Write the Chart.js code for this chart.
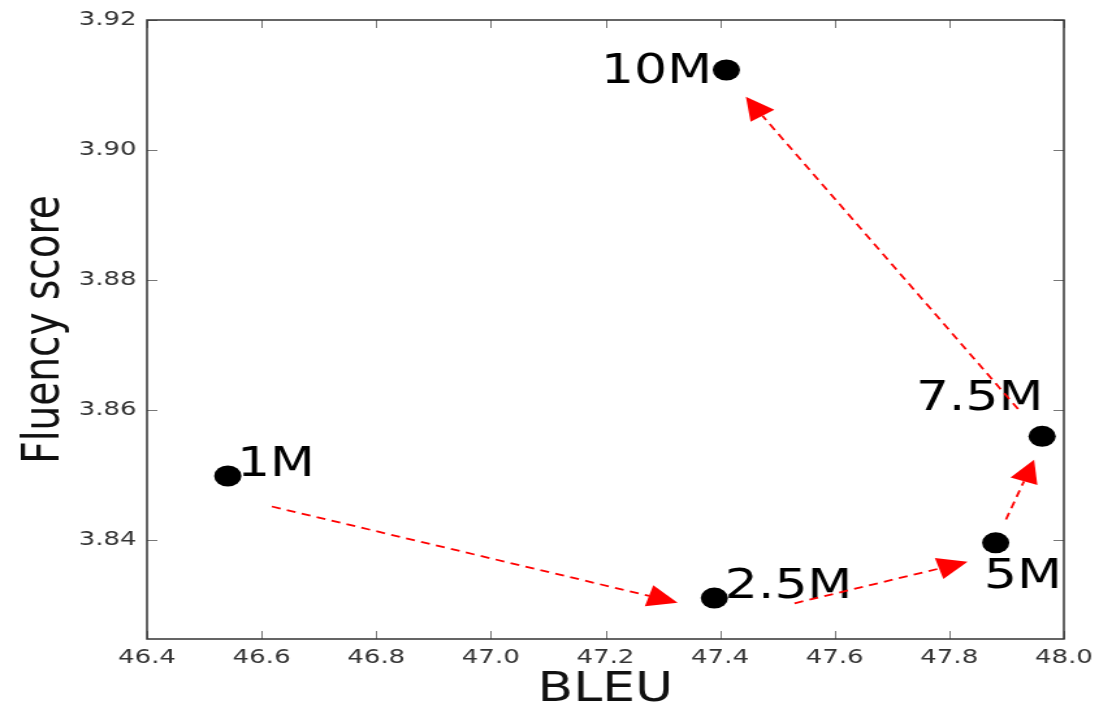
<!DOCTYPE html>
<html>
<head>
<meta charset="utf-8">
<script src="https://cdn.jsdelivr.net/npm/chart.js@4.4.1/dist/chart.umd.min.js"></script>
<style>
  html, body { margin: 0; padding: 0; background: #fff; overflow: hidden; }
  #chart { display: block; }
</style>
</head>
<body>
<!-- drawn at 855 wide and stretched to 1112, like the reference image -->
<canvas id="chart" width="855" height="715" style="width:1112px;height:715px"></canvas>
<script>
const sizes = ['1M', '2.5M', '5M', '7.5M', '10M'];
const bleu = [46.541, 47.390, 47.881, 47.962, 47.411];
const fluency = [3.8498, 3.8310, 3.8395, 3.8559, 3.9123];

// arrows between consecutive sizes (data coordinates)
const arrowFromX = [46.618, 47.530, 47.899, 47.920];
const arrowFromY = [3.8451, 3.8302, 3.8431, 3.8601];
const arrowToX = [47.326, 47.832, 47.948, 47.445];
const arrowToY = [3.8303, 3.8366, 3.8523, 3.9082];

const xTicks = [46.4, 46.6, 46.8, 47.0, 47.2, 47.4, 47.6, 47.8, 48.0];
const xTickLabels = ['46.4', '46.6', '46.8', '47.0', '47.2', '47.4', '47.6', '47.8', '48.0'];
const yTicks = [3.84, 3.86, 3.88, 3.90, 3.92];
const yTickLabels = ['3.84', '3.86', '3.88', '3.90', '3.92'];

const FONT = 'DejaVu Sans';

// where each point label sits relative to its marker (px)
const labelPlace = [
  { dx: 7, dy: 0, align: 'left' },
  { dx: 8, dy: 0, align: 'left' },
  { dx: -9, dy: 45, align: 'left' },
  { dx: 1, dy: -26, align: 'right' },
  { dx: -11, dy: 13, align: 'right' }
];

const framePlugin = {
  id: 'frame',
  beforeDatasetsDraw(chart) {
    const { ctx, chartArea: a, scales: { x, y } } = chart;
    const tl = 8;
    ctx.save();
    ctx.strokeStyle = '#777';
    ctx.lineWidth = 1;
    ctx.beginPath();
    xTicks.forEach(v => {
      const px = Math.round(x.getPixelForValue(v)) + 0.5;
      ctx.moveTo(px, a.bottom); ctx.lineTo(px, a.bottom - tl);
      ctx.moveTo(px, a.top); ctx.lineTo(px, a.top + tl);
    });
    yTicks.forEach(v => {
      const py = Math.round(y.getPixelForValue(v)) + 0.5;
      ctx.moveTo(a.left, py); ctx.lineTo(a.left + tl, py);
      ctx.moveTo(a.right, py); ctx.lineTo(a.right - tl, py);
    });
    ctx.stroke();
    ctx.strokeStyle = '#333';
    ctx.lineWidth = 1.5;
    ctx.strokeRect(a.left, a.top, a.right - a.left, a.bottom - a.top);
    ctx.restore();
  },
  afterDatasetsDraw(chart) {
    const { ctx, scales: { x, y } } = chart;
    ctx.save();
    // point labels
    ctx.fillStyle = '#000';
    ctx.font = '40px "' + FONT + '"';
    ctx.textBaseline = 'alphabetic';
    sizes.forEach((s, i) => {
      const p = labelPlace[i];
      ctx.textAlign = p.align;
      ctx.fillText(s, x.getPixelForValue(bleu[i]) + p.dx, y.getPixelForValue(fluency[i]) + p.dy);
    });
    // red dashed arrows
    arrowFromX.forEach((_, i) => {
      const x0 = x.getPixelForValue(arrowFromX[i]);
      const y0 = y.getPixelForValue(arrowFromY[i]);
      const x1 = x.getPixelForValue(arrowToX[i]);
      const y1 = y.getPixelForValue(arrowToY[i]);
      const ang = Math.atan2(y1 - y0, x1 - x0);
      const hl = 23, hw = 11;
      const bx = x1 - hl * Math.cos(ang), by = y1 - hl * Math.sin(ang);
      ctx.strokeStyle = '#ff0000';
      ctx.lineWidth = 1.8;
      ctx.setLineDash([7, 5]);
      ctx.beginPath();
      ctx.moveTo(x0, y0);
      ctx.lineTo(bx, by);
      ctx.stroke();
      ctx.setLineDash([]);
      ctx.fillStyle = '#ff0000';
      ctx.beginPath();
      ctx.moveTo(x1, y1);
      ctx.lineTo(bx + hw * Math.sin(ang), by - hw * Math.cos(ang));
      ctx.lineTo(bx - hw * Math.sin(ang), by + hw * Math.cos(ang));
      ctx.closePath();
      ctx.fill();
    });
    ctx.restore();
  }
};

new Chart(document.getElementById('chart'), {
  type: 'scatter',
  data: {
    datasets: [{
      data: bleu.map((v, i) => ({ x: v, y: fluency[i] })),
      backgroundColor: '#000',
      borderWidth: 0,
      pointRadius: 10.5,
      pointHoverRadius: 10.5
    }]
  },
  options: {
    responsive: false,
    animation: false,
    devicePixelRatio: 1,
    events: [],
    layout: { padding: { top: 17, right: 37, left: 0, bottom: 0 } },
    plugins: { legend: { display: false }, tooltip: { enabled: false } },
    scales: {
      x: {
        type: 'linear',
        min: 46.4,
        max: 48.0,
        afterBuildTicks: s => { s.ticks = xTicks.map(v => ({ value: v })); },
        afterFit: s => { s.height = 76; },
        grid: { display: false, drawTicks: false },
        border: { display: false },
        ticks: {
          padding: 7,
          color: '#333',
          font: { family: FONT, size: 20 },
          callback: (v, i) => xTickLabels[i]
        },
        title: {
          display: true,
          text: 'BLEU',
          color: '#111',
          font: { family: FONT, size: 40 },
          padding: { top: 0, bottom: 0 }
        }
      },
      y: {
        type: 'linear',
        min: 3.8247,
        max: 3.92,
        afterBuildTicks: s => { s.ticks = yTicks.map(v => ({ value: v })); },
        afterFit: s => { s.width = 113; },
        grid: { display: false, drawTicks: false },
        border: { display: false },
        ticks: {
          padding: 8,
          color: '#333',
          font: { family: FONT, size: 20 },
          callback: (v, i) => yTickLabels[i]
        },
        title: {
          display: true,
          text: 'Fluency score',
          color: '#111',
          font: { family: FONT, size: 39 },
          padding: { top: 11, bottom: 0 }
        }
      }
    }
  },
  plugins: [framePlugin]
});
</script>
</body>
</html>
